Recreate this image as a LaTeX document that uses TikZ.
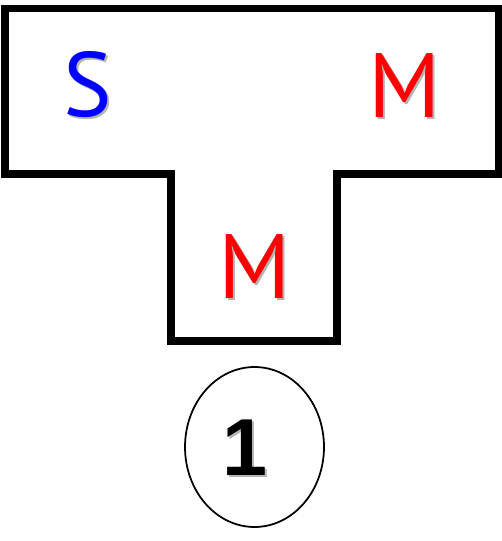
\documentclass[tikz,border=0pt]{standalone}
\usepackage{fontspec}
\usepackage{xcolor}
\usetikzlibrary{shapes.geometric}
\newfontfamily\letterfont{PT Sans}
\newfontfamily\digitfont{Liberation Sans}
\definecolor{seatblue}{HTML}{0000FF}
\definecolor{seatred}{HTML}{FF0000}
\definecolor{shade}{HTML}{B4B4B4}
\tikzset{
  wall/.style={draw=black,line width=4pt,line join=miter},
  letter/.style={font=\letterfont\fontsize{52}{52}\selectfont,inner sep=0pt},
  ghost/.style={letter,text=shade},
  badge/.style={ellipse,draw=black,line width=1pt,
                minimum width=2.78cm,minimum height=3.2cm,inner sep=0pt},
  digit/.style={font=\digitfont\bfseries\fontsize{46}{46}\selectfont,inner sep=0pt}
}
\begin{document}
\begin{tikzpicture}[x=0.02cm,y=-0.02cm]
    \path[use as bounding box] (0,0) rectangle (502,541);

    % T-shaped outline
    \draw[wall] (5,8.5) -- (499,8.5) -- (499,174) -- (337,174) -- (337,341)
      -- (171,341) -- (171,174) -- (5,174) -- cycle;

    % letters with a soft shadow
    \node[ghost] at (90,87) {S};
    \node[letter,text=seatblue] (s) at (88,85) {S};
    \node[ghost] at (407,88) {M};
    \node[letter,text=seatred] (mtop) at (405,86) {M};
    \node[ghost] at (256.5,269) {M};
    \node[letter,text=seatred] (mlow) at (254.5,267) {M};

    % number badge
    \node[badge] (num) at (254.5,447) {};
    \node[digit,text=shade] at (246.5,450) {1};
    \node[digit] (one) at (244.5,448) {1};
  \end{tikzpicture}
\end{document}
